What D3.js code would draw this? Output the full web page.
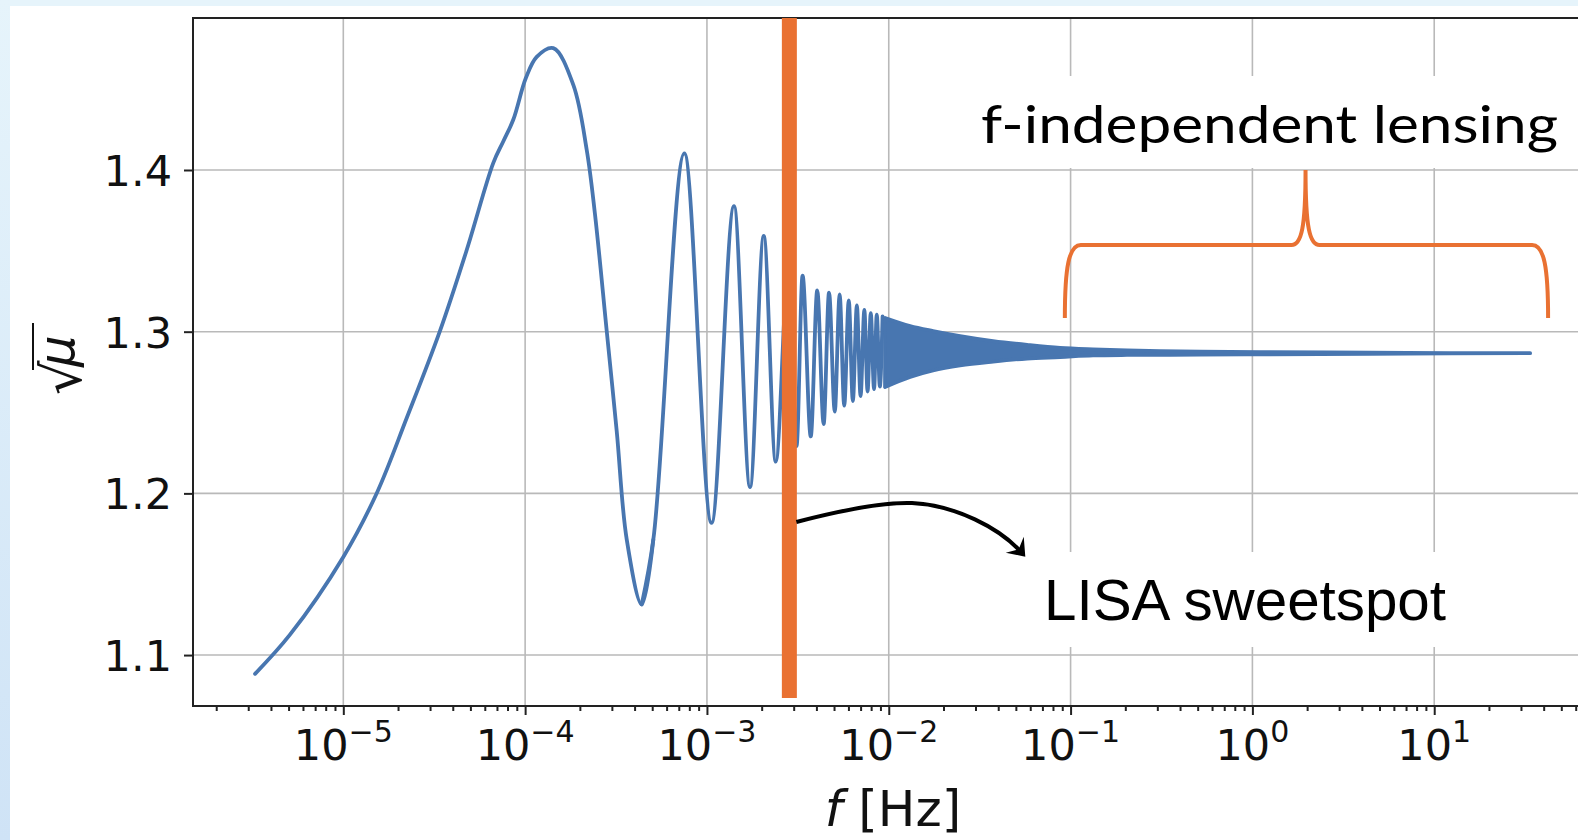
<!DOCTYPE html>
<html><head><meta charset="utf-8">
<script src="https://cdn.jsdelivr.net/npm/d3@7"></script>
<style>html,body{margin:0;padding:0;background:#fff;overflow:hidden}</style>
</head><body>
<svg id="chart" width="1578" height="840"></svg>
<script>
// ---------------- data ----------------
// resolved part of the curve: frequency [Hz] and sqrt(mu)
const freqHz = [3.27e-6, 5.09e-6, 1.00e-5, 1.527e-5, 2.232e-5, 3.402e-5, 4.772e-5, 6.684e-5, 7.59e-5, 8.612e-5,
  1.008e-4, 1.158e-4, 1.429e-4, 1.841e-4, 2.182e-4, 2.424e-4, 2.81e-4, 3.19e-4, 3.622e-4, 4.379e-4,
  5.071e-4, 7.509e-4, 1.060e-3, 1.409e-3, 1.726e-3, 2.053e-3, 2.390e-3, 2.811e-3, 3.111e-3, 3.357e-3,
  3.724e-3, 4.043e-3, 4.384e-3, 4.694e-3, 5.047e-3, 5.368e-3, 5.690e-3, 6.026e-3, 6.346e-3, 6.676e-3,
  6.997e-3, 7.341e-3, 7.645e-3, 7.962e-3, 8.300e-3, 8.590e-3, 8.933e-3, 9.245e-3];
const sqrtMu = [1.0884, 1.1126, 1.1607, 1.2001, 1.2466, 1.3005, 1.3505, 1.4044, 1.4178, 1.4312,
  1.4567, 1.4700, 1.4754, 1.4526, 1.4124, 1.3723, 1.3005, 1.2384, 1.1714, 1.1313,
  1.1714, 1.4103, 1.1817, 1.3777, 1.2039, 1.3592, 1.2196, 1.3412, 1.2293, 1.3347,
  1.2352, 1.3255, 1.2429, 1.3242, 1.2506, 1.3230, 1.2543, 1.3194, 1.2571, 1.3162,
  1.2602, 1.3134, 1.2630, 1.3115, 1.2645, 1.3106, 1.2661, 1.3094];
const smoothUntil = 19; // index of the first deep minimum: smooth part before, oscillations after
// densely oscillating part: envelope of the oscillation band
const bandFreqHz = [9.541e-3, 1.310e-2, 1.752e-2, 2.467e-2, 3.747e-2, 5.765e-2, 8.754e-2, 0.1330, 0.2045, 0.3107, 0.5156, 1.102, 4.440, 12.23, 33.70];
const bandUpper  = [1.3085, 1.3035, 1.3004, 1.2973, 1.2942, 1.2918, 1.2899, 1.2890, 1.2884, 1.2880, 1.2877, 1.2874, 1.2871, 1.2868, 1.2867];
const bandLower  = [1.2658, 1.2720, 1.2760, 1.2791, 1.2815, 1.2834, 1.2843, 1.2853, 1.2856, 1.2857, 1.2859, 1.2860, 1.2863, 1.2866, 1.2867];
// ticks
const yTicks = [1.1, 1.2, 1.3, 1.4];
const xTickExponents = [-5, -4, -3, -2, -1, 0, 1];
// annotations
const lisaFreqHz = 2.84e-3;
const lisaBarBottom = 1.0734;
const braceFreqHz = [0.093, 1.96, 42.3];
const braceLevels = [1.3085, 1.3536, 1.40];
const texts = {lensing: "f-independent lensing", lisa: "LISA sweetspot"};

// ---------------- drawing ----------------
const W = 1578, H = 840;
const svg = d3.select('#chart');
const defs = svg.append('defs');
const lg = defs.append('linearGradient').attr('id', 'leftStrip').attr('x1', 0).attr('y1', 0).attr('x2', 0).attr('y2', 1);
lg.append('stop').attr('offset', '0%').attr('stop-color', '#e6f4fb');
lg.append('stop').attr('offset', '100%').attr('stop-color', '#cfe3f6');
defs.append('marker').attr('id', 'arrowHead').attr('markerUnits', 'userSpaceOnUse')
  .attr('viewBox', '-20 -14 26 28').attr('markerWidth', 26).attr('markerHeight', 28)
  .attr('refX', -5).attr('refY', 0).attr('orient', 'auto')
  .append('path').attr('d', 'M0,0 L-16,-12 L-10,0 L-16,12 Z').attr('fill', '#000');

svg.append('rect').attr('width', W).attr('height', H).attr('fill', '#fff');
svg.append('rect').attr('x', 0).attr('y', 0).attr('width', W).attr('height', 6).attr('fill', '#e6f4fb');
svg.append('rect').attr('x', 0).attr('y', 0).attr('width', 10).attr('height', H).attr('fill', 'url(#leftStrip)');

const L = 193, T = 18, B = 706, R = 1593;
const x = d3.scaleLog().domain([Math.pow(10, -5.8267), Math.pow(10, 1.8733)]).range([L, R]);
const y = d3.scaleLinear().domain([1.0685, 1.494]).range([B, T]);
const majors = xTickExponents.map(e => Math.pow(10, e));
const isMajor = t => Math.abs(Math.log10(t) - Math.round(Math.log10(t))) < 1e-9;

// grid
const grid = svg.append('g').attr('stroke', '#b9b9b9').attr('stroke-width', 1.6);
grid.selectAll('line.gx').data(majors).join('line').attr('class', 'gx')
  .attr('x1', d => x(d)).attr('x2', d => x(d)).attr('y1', T).attr('y2', B);
grid.selectAll('line.gy').data(yTicks).join('line').attr('class', 'gy')
  .attr('x1', L).attr('x2', R).attr('y1', d => y(d)).attr('y2', d => y(d));

// curve
const blue = '#4876b0';
const pts = freqHz.map((f, i) => [f, sqrtMu[i]]);
const smoothGen = d3.line().x(d => x(d[0])).y(d => y(d[1])).curve(d3.curveCatmullRom.alpha(0.5));
const oscGen = d3.line().x(d => x(d[0])).y(d => y(d[1])).curve(d3.curveMonotoneX);
const lineStyle = p => p.attr('fill', 'none').attr('stroke', blue).attr('stroke-width', 3.8)
  .attr('stroke-linejoin', 'round').attr('stroke-linecap', 'round');
svg.append('path').datum(pts.slice(0, smoothUntil + 2)).attr('d', smoothGen).call(lineStyle);
svg.append('path').datum(pts.slice(smoothUntil)).attr('d', oscGen).call(lineStyle);
const areaGen = d3.area().x(d => x(d[0])).y0(d => y(d[2])).y1(d => y(d[1])).curve(d3.curveMonotoneX);
svg.append('path').datum(bandFreqHz.map((f, i) => [f, bandUpper[i], bandLower[i]]))
  .attr('d', areaGen).attr('fill', blue).attr('stroke', blue).attr('stroke-width', 3.8)
  .attr('stroke-linejoin', 'round');

// axes
const axisColor = '#222';
const gxMinor = svg.append('g').attr('transform', `translate(0,${B})`)
  .call(d3.axisBottom(x).tickValues(x.ticks().filter(t => !isMajor(t))).tickSize(5).tickSizeOuter(0).tickFormat(''));
const gxMajor = svg.append('g').attr('transform', `translate(0,${B})`)
  .call(d3.axisBottom(x).tickValues(majors).tickSize(9).tickSizeOuter(0).tickFormat(''));
const gy = svg.append('g').attr('transform', `translate(${L},0)`)
  .call(d3.axisLeft(y).tickValues(yTicks).tickSize(9).tickSizeOuter(0).tickPadding(12).tickFormat(d3.format('.1f')));
[gxMinor, gxMajor, gy].forEach(g => {
  g.select('.domain').remove();
  g.selectAll('.tick line').attr('stroke', axisColor).attr('stroke-width', 2);
});
gy.selectAll('.tick text').attr('font-family', 'DejaVu Sans').attr('font-size', 43).attr('fill', '#111').attr('dy', '0.36em');

// x tick labels with superscripts
const xl = svg.append('g').attr('font-family', 'DejaVu Sans').attr('fill', '#111');
xl.selectAll('text').data(xTickExponents).join('text')
  .attr('x', e => x(Math.pow(10, e))).attr('y', 760).attr('text-anchor', 'middle').attr('font-size', 43)
  .each(function (e) {
    const t = d3.select(this);
    t.append('tspan').text('10');
    t.append('tspan').attr('font-size', 30).attr('dy', -18).text(e < 0 ? '\u2212' + (-e) : String(e));
  });

// spines
svg.append('rect').attr('x', L).attr('y', T).attr('width', R - L).attr('height', B - T)
  .attr('fill', 'none').attr('stroke', axisColor).attr('stroke-width', 2);

// axis labels
const xlab = svg.append('text').attr('x', (L + R) / 2).attr('y', 826).attr('text-anchor', 'middle')
  .attr('font-family', 'DejaVu Sans').attr('font-size', 50).attr('fill', '#111');
xlab.append('tspan').attr('font-style', 'italic').text('f');
xlab.append('tspan').text(' [Hz]');

const ylab = svg.append('g').attr('transform', `translate(59,${(T + B) / 2 - 2}) rotate(-90)`)
  .attr('font-family', 'DejaVu Sans').attr('fill', '#111');
ylab.append('text').attr('x', -35).attr('y', 22).attr('font-size', 54).text('\u221A');
ylab.append('text').attr('x', -7).attr('y', 15).attr('font-size', 50).attr('font-style', 'italic').text('\u03BC');
ylab.append('line').attr('x1', -10).attr('x2', 37).attr('y1', -26).attr('y2', -26)
  .attr('stroke', '#111').attr('stroke-width', 2);

// ---------------- annotations ----------------
const orange = '#E97132';
svg.append('rect').attr('x', 960).attr('y', 76).attr('width', 618).attr('height', 92).attr('fill', '#fff');
svg.append('rect').attr('x', 1000).attr('y', 552).attr('width', 460).attr('height', 95).attr('fill', '#fff');

svg.append('line').attr('x1', x(lisaFreqHz)).attr('x2', x(lisaFreqHz)).attr('y1', T).attr('y2', y(lisaBarBottom))
  .attr('stroke', orange).attr('stroke-width', 15);

const bx0 = x(braceFreqHz[0]), bxc = x(braceFreqHz[1]), bx1 = x(braceFreqHz[2]);
const by0 = y(braceLevels[0]), byh = y(braceLevels[1]), byc = y(braceLevels[2]);
const braceD = `M${bx0},${by0} C${bx0},${byh + 22} ${bx0 + 4},${byh} ${bx0 + 16},${byh}`
  + ` L${bxc - 14},${byh} C${bxc - 4},${byh} ${bxc},${byh - 18} ${bxc},${byc}`
  + ` C${bxc},${byh - 18} ${bxc + 4},${byh} ${bxc + 14},${byh}`
  + ` L${bx1 - 16},${byh} C${bx1 - 4},${byh} ${bx1},${byh + 22} ${bx1},${by0}`;
svg.append('path').attr('d', braceD).attr('fill', 'none').attr('stroke', orange).attr('stroke-width', 4);

svg.append('text').attr('x', 981).attr('y', 143).attr('font-family', 'Lato, "Open Sans", sans-serif')
  .attr('font-size', 53).attr('fill', '#000').attr('textLength', 577).attr('lengthAdjust', 'spacingAndGlyphs')
  .text(texts.lensing);
svg.append('text').attr('x', 1044).attr('y', 620).attr('font-family', '"Liberation Sans", Arial, sans-serif')
  .attr('font-size', 57).attr('fill', '#000').attr('textLength', 402).attr('lengthAdjust', 'spacingAndGlyphs')
  .text(texts.lisa);

const ax0 = x(lisaFreqHz) + 7;
svg.append('path')
  .attr('d', `M${ax0},522 C850,508 885,502 912,503 C955,505 1000,528 1022,553`)
  .attr('fill', 'none').attr('stroke', '#000').attr('stroke-width', 4).attr('marker-end', 'url(#arrowHead)');
</script>
</body></html>
